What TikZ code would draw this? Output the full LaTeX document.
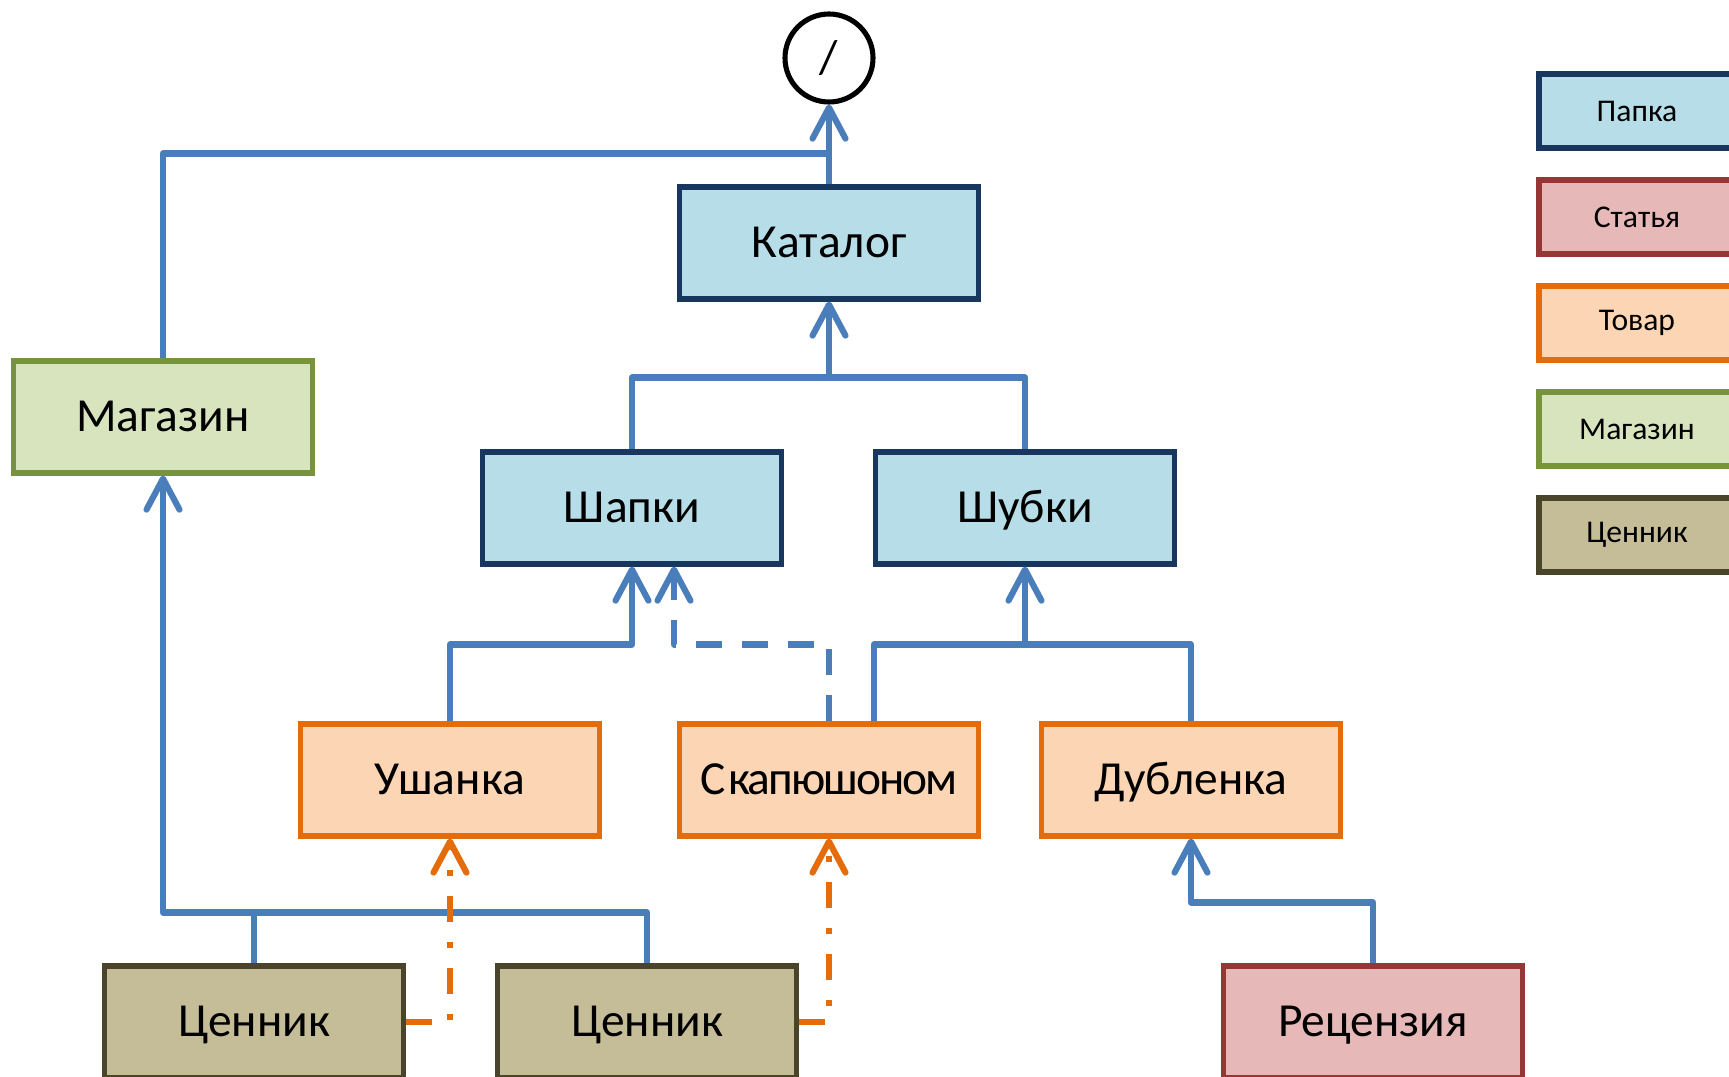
\documentclass[tikz,border=0pt]{standalone}
\usepackage{fontspec}
\setmainfont{Carlito}
\usetikzlibrary{positioning,arrows.meta}
\definecolor{linkblue}{HTML}{4A7EBB}
\definecolor{folderfill}{HTML}{B7DEE8}
\definecolor{folderdraw}{HTML}{17375E}
\definecolor{articlefill}{HTML}{E6B9B8}
\definecolor{articledraw}{HTML}{953735}
\definecolor{goodsfill}{HTML}{FCD5B5}
\definecolor{goodsdraw}{HTML}{E46C0A}
\definecolor{shopfill}{HTML}{D7E4BD}
\definecolor{shopdraw}{HTML}{77933C}
\definecolor{tagfill}{HTML}{C4BD97}
\definecolor{tagdraw}{HTML}{4A452A}
\begin{document}
\begin{tikzpicture}[node distance = 1cm, on grid,
        box/.style = {rectangle, line width=1.45pt, minimum width=2.99cm, minimum height=1.12cm, text height=0.8em, text depth=0pt, font=\fontsize{13.5}{15}\selectfont},
        key/.style = {rectangle, line width=1.45pt, minimum width=1.96cm, minimum height=0.74cm, font=\fontsize{9}{11}\selectfont},
        folder/.style = {draw=folderdraw, fill=folderfill},
        article/.style = {draw=articledraw, fill=articlefill},
        goods/.style = {draw=goodsdraw, fill=goodsfill},
        shop/.style = {draw=shopdraw, fill=shopfill},
        pricetag/.style = {draw=tagdraw, fill=tagfill},
        edgeline/.style = {draw=linkblue, line width=1.75pt, line join=round},
        edgearrow/.style = {edgeline, -{Straight Barb[length=3.1mm,width=3.3mm,round]}},
        refarrow/.style = {edgearrow, dash pattern=on 2.6mm off 2mm},
        tagarrow/.style = {edgearrow, draw=goodsdraw, dash pattern=on 2.6mm off 2mm on 0.6mm off 2mm}]
        \useasboundingbox (0,0) rectangle (17.29,-10.77);

        \node (Root) [circle, draw, line width=1.45pt, minimum size=0.88cm, font=\fontsize{13.5}{15}\selectfont] at (8.29,-0.58) {/};
        \node (Catalog) [box, folder, below = 1.85cm of Root] {Каталог};
        \node (Shop) [box, shop, below left = 1.74cm and 6.66cm of Catalog] {Магазин};
        \node (Hats) [box, folder, below left = 2.65cm and 1.97cm of Catalog] {Шапки};
        \node (Coats) [box, folder, right = 3.93cm of Hats] {Шубки};
        \node (Ushanka) [box, goods, below left = 2.72cm and 1.82cm of Hats] {Ушанка};
        \node (Hood) [box, goods, right = 3.79cm of Ushanka] {{\addfontfeatures{LetterSpace=-4}С\hspace{0.06em}капюшоном}};
        \node (Sheepskin) [box, goods, right = 3.62cm of Hood] {Дубленка};
        \node (TagA) [box, pricetag, below left = 2.42cm and 1.96cm of Ushanka] {Ценник};
        \node (TagB) [box, pricetag, right = 3.93cm of TagA] {Ценник};
        \node (Review) [box, article, below right = 2.42cm and 1.82cm of Sheepskin] {Рецензия};

        \node (KeyFolder) [key, folder] at (16.37,-1.11) {Папка};
        \node (KeyArticle) [key, article, below = 1.06cm of KeyFolder] {Статья};
        \node (KeyGoods) [key, goods, below = 1.06cm of KeyArticle] {Товар};
        \node (KeyShop) [key, shop, below = 1.06cm of KeyGoods] {Магазин};
        \node (KeyTag) [key, pricetag, below = 1.06cm of KeyShop] {Ценник};

        \coordinate (RootJoin) at ([yshift=3.1mm]Catalog.north);
        \coordinate (CatalogJoin) at ([yshift=-7.6mm]Catalog.south);
        \coordinate (HatsJoin) at ([yshift=-7.8mm]Hats.south);
        \coordinate (CoatsJoin) at ([yshift=-7.8mm]Coats.south);
        \coordinate (SheepskinJoin) at ([yshift=-6.4mm]Sheepskin.south);
        \coordinate (ShopJoin) at ([yshift=5.1mm]TagA.north);

        \draw[edgearrow] (Catalog) -- (Root);
        \draw[edgeline] (Shop.north) |- (RootJoin);
        \draw[edgeline] (Hats.north) |- (CatalogJoin) -| (Coats.north);
        \draw[edgearrow] (CatalogJoin) -- (Catalog);
        \draw[edgearrow] (Ushanka.north) |- (HatsJoin) -- (Hats.south);
        \draw[refarrow] (Hood.north) |- ([xshift=4.2mm]HatsJoin) -- ([xshift=4.2mm]Hats.south);
        \draw[edgeline] ([xshift=4.5mm]Hood.north) |- (CoatsJoin) -| (Sheepskin.north);
        \draw[edgearrow] (CoatsJoin) -- (Coats);
        \draw[edgearrow] (Review.north) |- (SheepskinJoin) -- (Sheepskin.south);
        \draw[edgeline] (TagA.north) -- (TagA.north |- ShopJoin);
        \draw[edgearrow] (TagB.north) |- (Shop.south |- ShopJoin) -- (Shop.south);
        \draw[tagarrow] (TagA.east) -| (Ushanka.south);
        \draw[tagarrow] (TagB.east) -| (Hood.south);
    \end{tikzpicture}
\end{document}
